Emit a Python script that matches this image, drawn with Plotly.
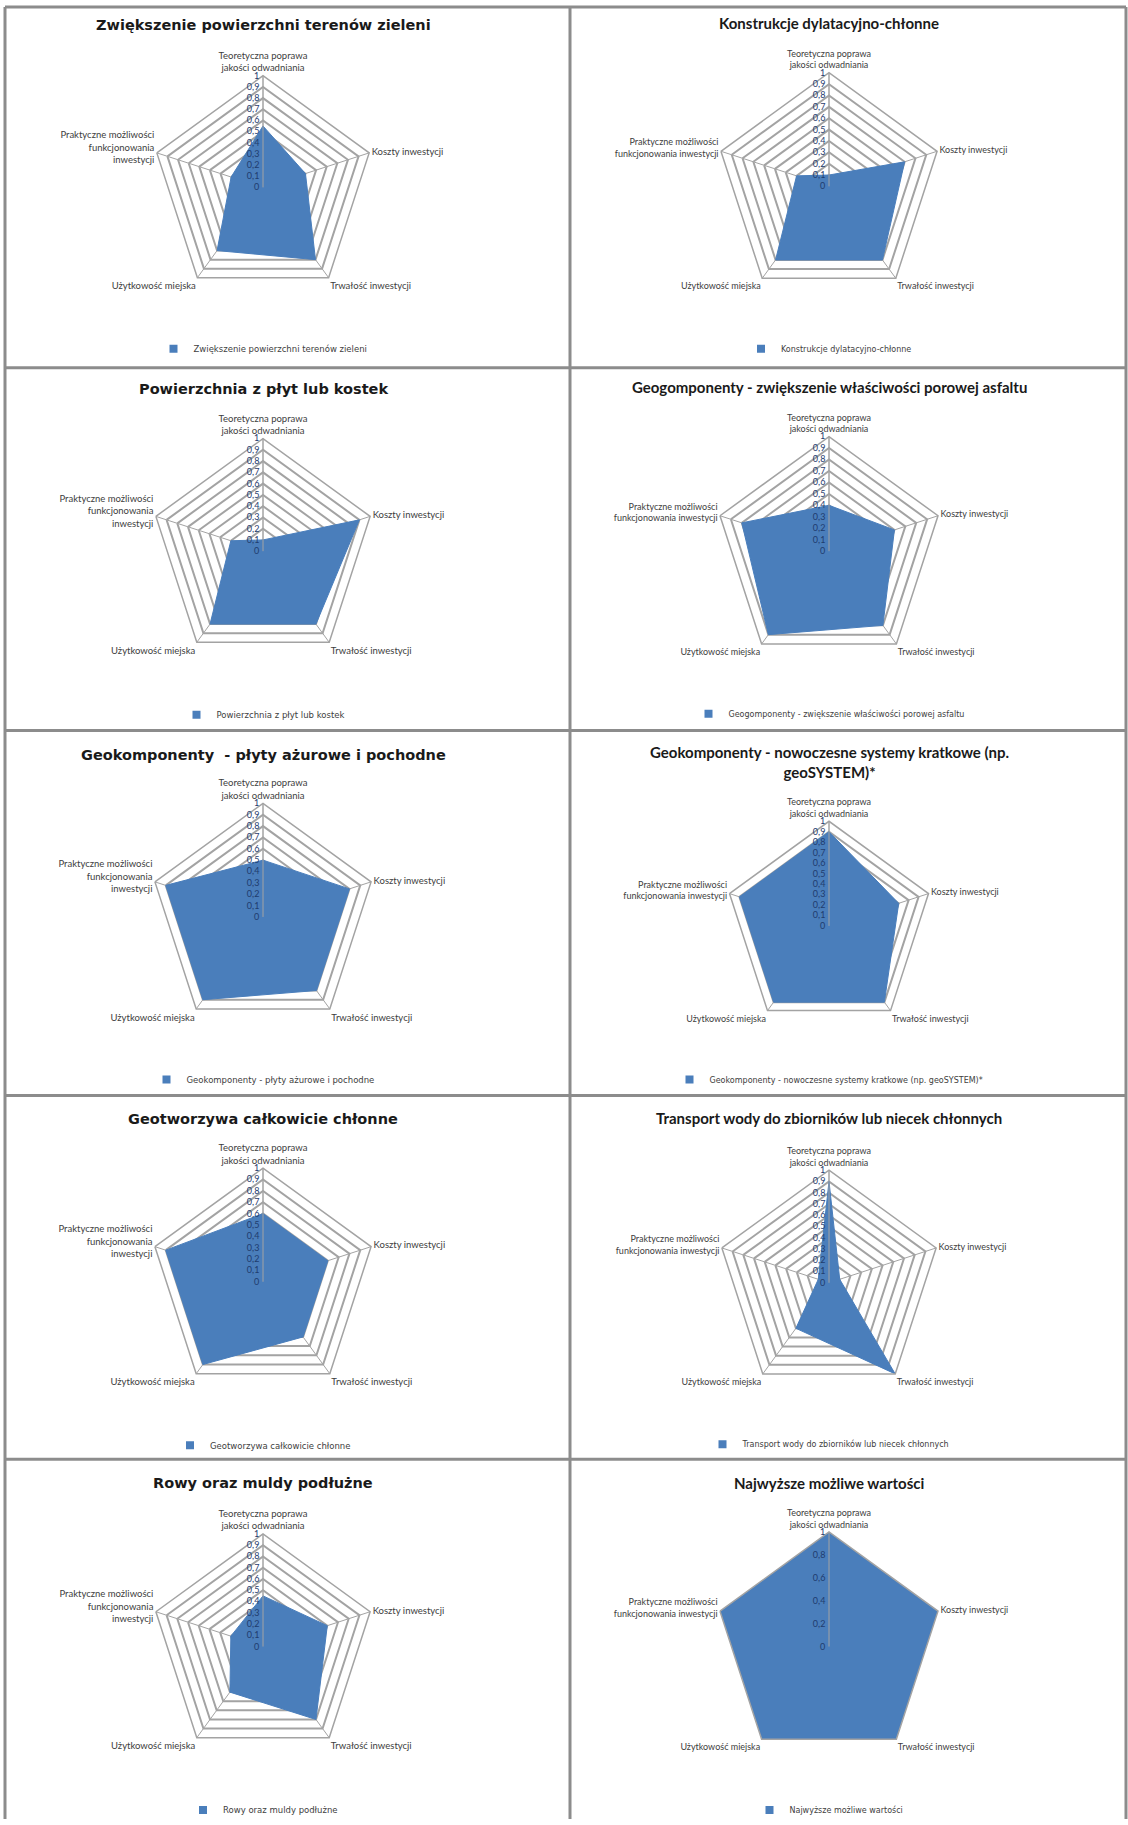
import plotly.graph_objects as go

# ---------------- data ----------------
categories = [
    "Teoretyczna poprawa jakości odwadniania",
    "Koszty inwestycji",
    "Trwałość inwestycji",
    "Użytkowość miejska",
    "Praktyczne możliwości funkcjonowania inwestycji",
]
tick_labels_left = [
    "Teoretyczna poprawa<br>jakości odwadniania",
    "Koszty inwestycji",
    "Trwałość inwestycji",
    "Użytkowość miejska",
    "Praktyczne możliwości<br>funkcjonowania<br>inwestycji",
]
tick_labels_right = [
    "Teoretyczna poprawa<br>jakości odwadniania",
    "Koszty inwestycji",
    "Trwałość inwestycji",
    "Użytkowość miejska",
    "Praktyczne możliwości<br>funkcjonowania inwestycji",
]

titles = [
    "Zwiększenie powierzchni terenów zieleni",
    "Konstrukcje dylatacyjno-chłonne",
    "Powierzchnia z płyt lub kostek",
    "Geogomponenty - zwiększenie właściwości porowej asfaltu",
    "Geokomponenty  - płyty ażurowe i pochodne",
    "Geokomponenty - nowoczesne systemy kratkowe (np.<br>geoSYSTEM)*",
    "Geotworzywa całkowicie chłonne",
    "Transport wody do zbiorników lub niecek chłonnych",
    "Rowy oraz muldy podłużne",
    "Najwyższe możliwe wartości",
]
series_names = [
    "Zwiększenie powierzchni terenów zieleni",
    "Konstrukcje dylatacyjno-chłonne",
    "Powierzchnia z płyt lub kostek",
    "Geogomponenty - zwiększenie właściwości porowej asfaltu",
    "Geokomponenty - płyty ażurowe i pochodne",
    "Geokomponenty - nowoczesne systemy kratkowe (np. geoSYSTEM)*",
    "Geotworzywa całkowicie chłonne",
    "Transport wody do zbiorników lub niecek chłonnych",
    "Rowy oraz muldy podłużne",
    "Najwyższe możliwe wartości",
]

zielen = [0.55, 0.4, 0.8, 0.7, 0.3]
dylatacyjne = [0.1, 0.7, 0.8, 0.8, 0.3]
plyty_kostki = [0.1, 0.9, 0.8, 0.8, 0.3]
asfalt = [0.4, 0.6, 0.8, 0.9, 0.8]
azurowe = [0.5, 0.8, 0.8, 0.9, 0.9]
kratkowe = [0.9, 0.7, 0.9, 0.9, 0.9]
geotworzywa = [0.6, 0.6, 0.6, 0.9, 0.9]
transport = [0.9, 0.1, 1.0, 0.5, 0.1]
rowy = [0.45, 0.6, 0.8, 0.5, 0.3]
najwyzsze = [1.0, 1.0, 1.0, 1.0, 1.0]

values = [zielen, dylatacyjne, plyty_kostki, asfalt, azurowe,
          kratkowe, geotworzywa, transport, rowy, najwyzsze]
radial_steps = [0.1, 0.1, 0.1, 0.1, 0.1, 0.1, 0.1, 0.1, 0.1, 0.2]

# ---------------- layout (pixels) ----------------
W, H = 1128, 1825
col_cx = [263, 829]
centers_y = [188, 187, 553, 553, 920, 929, 1286, 1287, 1652, 1652]
radii = [112, 114, 113, 115, 114, 105, 114, 113, 113, 115]
title_y = [25, 23, 390, 388, 757, 765, 1123, 1122, 1488, 1488]
legend_y = [350, 350, 717, 716, 1083, 1083, 1450, 1449, 1816, 1816]
row_lines = [7, 369, 733, 1099, 1464]
col_lines = [5, 570, 1126]

FILL = "#4A7EBB"
GRID = "#A3A3A3"
FONT = "Lato, Open Sans, sans-serif"
WIDE = "DejaVu Sans, Verdana, sans-serif"
title_fonts = [WIDE, FONT]
title_sizes = [14.5, 15]
label_sizes = [9.5, 9]
legend_sizes = [8.5, 8]

fig = go.Figure()
layout = dict(
    width=W, height=H,
    margin=dict(l=0, r=0, t=0, b=0),
    paper_bgcolor="white",
    separators=", ",
    showlegend=True,
    font=dict(family=FONT, color="#404040"),
    annotations=[],
    shapes=[],
)

for i in range(10):
    col = i % 2
    cx = col_cx[col]
    cy = centers_y[i]
    R = radii[i]
    pname = "polar" if i == 0 else f"polar{i+1}"
    lname = "legend" if i == 0 else f"legend{i+1}"
    vals = values[i]
    fig.add_trace(go.Scatterpolar(
        r=vals + vals[:1],
        theta=categories + categories[:1],
        mode="lines",
        fill="toself",
        fillcolor=FILL,
        line=dict(color=FILL, width=1),
        name=series_names[i],
        subplot=pname,
        showlegend=False,
        hoverinfo="skip",
    ))
    # legend key only (square marker like the Excel legend); holds no visible point
    fig.add_trace(go.Scatterpolar(
        r=[None], theta=[None],
        mode="markers",
        marker=dict(symbol="square", size=8, color=FILL),
        name=series_names[i],
        subplot=pname,
        legend=lname,
        showlegend=True,
        hoverinfo="skip",
    ))
    layout[pname] = dict(
        domain=dict(x=[(cx - R) / W, (cx + R) / W],
                    y=[1 - (cy + R) / H, 1 - (cy - R) / H]),
        bgcolor="white",
        gridshape="linear",
        radialaxis=dict(
            range=[0, 1], dtick=radial_steps[i], tick0=0,
            angle=90, side="counterclockwise", tickangle=90,
            showline=True, linecolor=GRID, linewidth=1,
            gridcolor=GRID, gridwidth=1.5, ticks="",
            tickfont=dict(size=9, color="#1F3C6E", family=FONT),
            layer="above traces",
        ),
        angularaxis=dict(
            direction="clockwise", rotation=90,
            tickmode="array", tickvals=categories,
            ticktext=tick_labels_left if col == 0 else tick_labels_right,
            showline=True, linecolor=GRID, linewidth=1.5,
            gridcolor=GRID, gridwidth=1, ticks="",
            tickfont=dict(size=label_sizes[col], color="#404040", family=FONT),
        ),
    )
    layout[lname] = dict(
        x=cx / W, y=1 - legend_y[i] / H,
        xanchor="center", yanchor="middle",
        orientation="h",
        bgcolor="rgba(0,0,0,0)",
        font=dict(size=legend_sizes[col], color="#404040", family=WIDE),
        itemwidth=30,
    )
    layout["annotations"].append(dict(
        text="<b>" + titles[i] + "</b>",
        x=cx / W, y=1 - title_y[i] / H,
        xref="paper", yref="paper",
        xanchor="center", yanchor="middle",
        showarrow=False,
        font=dict(size=title_sizes[col], color="#1A1A1A", family=title_fonts[col]),
    ))

for x in col_lines:
    layout["shapes"].append(dict(type="line", xref="paper", yref="paper",
                                 x0=x / W, x1=x / W, y0=0, y1=1 - row_lines[0] / H,
                                 line=dict(color="#8C8C8C", width=3)))
for y in row_lines:
    layout["shapes"].append(dict(type="line", xref="paper", yref="paper",
                                 x0=col_lines[0] / W, x1=col_lines[-1] / W,
                                 y0=1 - y / H, y1=1 - y / H,
                                 line=dict(color="#8C8C8C", width=3)))

fig.update_layout(**layout)
fig.write_html("out.html",
               config={"displayModeBar": False},
               post_script="document.body.style.margin='0px';document.body.style.overflow='hidden';")
